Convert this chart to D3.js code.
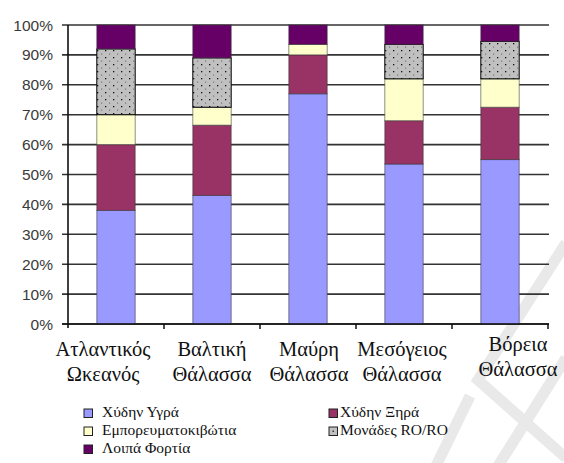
<!DOCTYPE html>
<html>
<head>
<meta charset="utf-8">
<script src="https://cdn.jsdelivr.net/npm/d3@7"></script>
<style>
  html, body { margin: 0; padding: 0; background: #fff; }
  svg { display: block; }
</style>
</head>
<body>
<div id="chart"></div>
<script>
// Sea regions (two-line labels)
const regions = ["Ατλαντικός Ωκεανός", "Βαλτική Θάλασσα", "Μαύρη Θάλασσα", "Μεσόγειος Θάλασσα", "Βόρεια Θάλασσα"];
const regionLines = [["Ατλαντικός", "Ωκεανός"], ["Βαλτική", "Θάλασσα"], ["Μαύρη", "Θάλασσα"], ["Μεσόγειος", "Θάλασσα"], ["Βόρεια", "Θάλασσα"]];

// Cargo categories
const seriesNames = ["Χύδην Υγρά", "Χύδην Ξηρά", "Εμπορευματοκιβώτια", "Μονάδες RO/RO", "Λοιπά Φορτία"];

// Share of each cargo category per region (%)
const liquidBulk = [38, 43, 77, 53.5, 55];
const dryBulk    = [22, 23.5, 13, 14.5, 17.5];
const containers = [10, 6, 3.5, 14, 9.5];
const roro       = [22, 16.5, 0, 11.5, 12.5];
const otherCargo = [8, 11, 6.5, 6.5, 5.5];

const yTicks = [0, 0.1, 0.2, 0.3, 0.4, 0.5, 0.6, 0.7, 0.8, 0.9, 1];

const seriesValues = [liquidBulk, dryBulk, containers, roro, otherCargo];
const fills = ["#9999FF", "#993366", "#FFFFCC", "url(#dots)", "#660066"];

const SERIF = "'Liberation Serif', serif";
const SANS = "'Liberation Sans', sans-serif";

const W = 564, H = 463;
const svg = d3.select("#chart").append("svg").attr("width", W).attr("height", H);

// dotted fill for RO/RO
const defs = svg.append("defs");
const pat = defs.append("pattern").attr("id", "dots").attr("patternUnits", "userSpaceOnUse")
  .attr("width", 8).attr("height", 7);
pat.append("rect").attr("width", 8).attr("height", 7).attr("fill", "#C0C0C0");
pat.append("rect").attr("x", 1).attr("y", 1).attr("width", 1.3).attr("height", 1.3).attr("fill", "#111");
pat.append("rect").attr("x", 5).attr("y", 4.5).attr("width", 1.2).attr("height", 1.2).attr("fill", "#777");

// faint background watermark strokes
const wm = svg.append("g").attr("fill", "none").attr("stroke", "#e9e9e9").attr("stroke-width", 11);
[
  [[566, 243], [478, 380], [566, 458]],
  [[566, 358], [498, 466]],
  [[470, 396], [436, 466]]
].forEach(pts => wm.append("path").attr("d", d3.line()(pts)));

const table = regions.map((r, i) => {
  const row = { region: r };
  seriesNames.forEach((s, k) => row[s] = seriesValues[k][i]);
  return row;
});

const stacked = d3.stack().keys(seriesNames).offset(d3.stackOffsetExpand)(table);

const x = d3.scaleBand().domain(regions).range([68, 548]).paddingInner(0.6).paddingOuter(0.3);
const xEdge = d3.scaleBand().domain(regions).range([68, 548]).padding(0);
const y = d3.scaleLinear().domain([0, 1]).range([324, 25]);

// horizontal gridlines with left tick marks
svg.append("g").selectAll("line").data(yTicks).join("line")
  .attr("x1", 62).attr("x2", 549)
  .attr("y1", d => y(d)).attr("y2", d => y(d))
  .attr("stroke", "#333").attr("stroke-width", 1.6);

// y tick labels
svg.append("g").selectAll("text").data(yTicks).join("text")
  .attr("x", 53).attr("y", d => y(d)).attr("dy", "0.36em")
  .attr("text-anchor", "end")
  .style("font-family", SANS).style("font-size", "15.5px")
  .attr("fill", "#3a3a3a")
  .text(d3.format(".0%"));

// stacked bars
svg.append("g").selectAll("g").data(stacked).join("g")
  .attr("fill", (d, k) => fills[k])
  .selectAll("rect").data(d => d.filter(p => p[1] - p[0] > 0)).join("rect")
  .attr("x", d => x(d.data.region))
  .attr("width", x.bandwidth())
  .attr("y", d => y(d[1]))
  .attr("height", d => y(d[0]) - y(d[1]))
  .attr("stroke", function() { return d3.select(this.parentNode).datum().key === "Μονάδες RO/RO" ? "#000" : "#333"; })
  .attr("stroke-opacity", function() { return d3.select(this.parentNode).datum().key === "Μονάδες RO/RO" ? 1 : 0.55; })
  .attr("stroke-width", 1);

// axes
svg.append("line").attr("x1", 68).attr("x2", 68).attr("y1", 25).attr("y2", 328)
  .attr("stroke", "#111").attr("stroke-width", 1.6);
svg.append("line").attr("x1", 62).attr("x2", 549).attr("y1", 324).attr("y2", 324)
  .attr("stroke", "#111").attr("stroke-width", 1.6);
svg.append("g").selectAll("line").data(regions).join("line")
  .attr("x1", d => xEdge(d) + xEdge.bandwidth()).attr("x2", d => xEdge(d) + xEdge.bandwidth())
  .attr("y1", 324).attr("y2", 329)
  .attr("stroke", "#111").attr("stroke-width", 1.5);

// category labels (outer labels nudged to stay in view)
const labelShift = [[-13, 0], [0, 0], [1, 0], [-2, 0], [18, -5]];
const lab = svg.append("g");
regionLines.forEach((lines, i) => {
  const cx = xEdge(regions[i]) + xEdge.bandwidth() / 2 + labelShift[i][0];
  lines.forEach((t, j) => {
    lab.append("text").attr("x", cx).attr("y", 356 + j * 25 + labelShift[i][1])
      .attr("text-anchor", "middle").attr("fill", "#111")
      .style("font-family", SERIF).style("font-size", "20.5px")
      .text(t);
  });
});

// legend: two columns, filled row by row
const leg = svg.append("g");
seriesNames.forEach((s, k) => {
  const col = k % 2, row = Math.floor(k / 2);
  const sx = col === 0 ? 84 : 329;
  const tx = col === 0 ? 102 : 340;
  const base = 417 + row * 18;
  leg.append("rect").attr("x", sx).attr("y", base - 8).attr("width", 8.5).attr("height", 8.5)
    .attr("fill", k === 3 ? "#C0C0C0" : fills[k]).attr("stroke", "#222").attr("stroke-width", 1);
  if (k === 3) leg.append("rect").attr("x", sx + 3.6).attr("y", base - 4.4).attr("width", 1.3).attr("height", 1.3).attr("fill", "#111");
  leg.append("text").attr("x", tx).attr("y", base).attr("fill", "#111")
    .style("font-family", SERIF).style("font-size", "15.5px")
    .text(s);
});
</script>
</body>
</html>
